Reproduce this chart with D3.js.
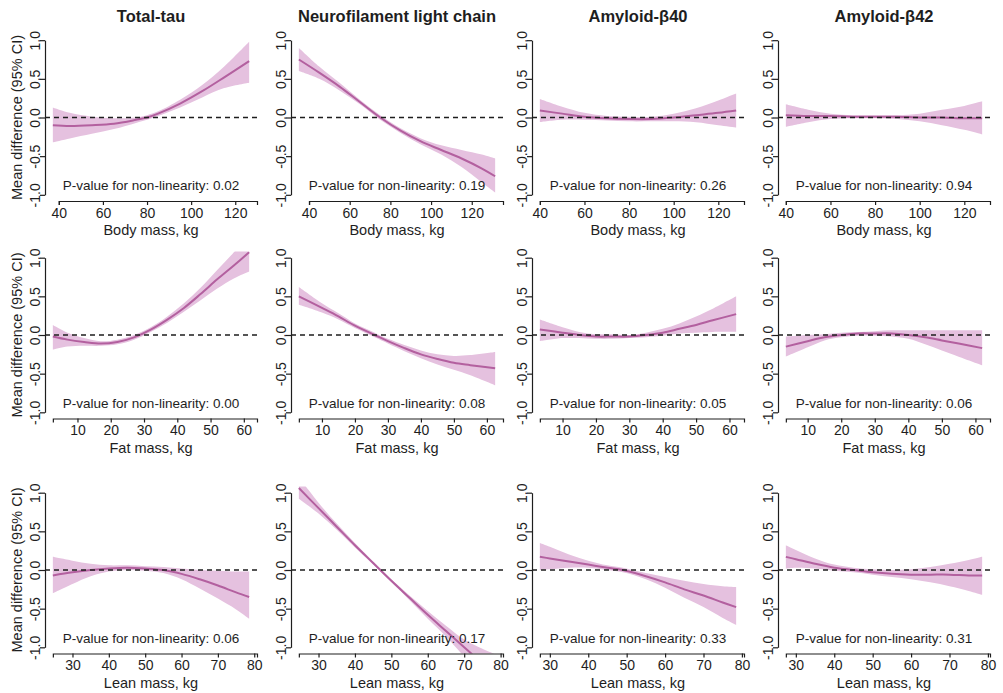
<!DOCTYPE html>
<html>
<head>
<meta charset="utf-8">
<script src="https://cdn.jsdelivr.net/npm/d3@7"></script>
<style>
  body { margin: 0; background: #fff; }
  text { font-family: "Liberation Sans", Arial, Helvetica, sans-serif; }
</style>
</head>
<body>
<svg id="chart" width="1003" height="693"></svg>
<script>
// Outcomes (columns) and exposures (rows)
const outcomes = ["Total-tau", "Neurofilament light chain", "Amyloid-β40", "Amyloid-β42"];
const exposures = ["Body mass, kg", "Fat mass, kg", "Lean mass, kg"];

// Axis ticks
const xTicksBody = [40, 60, 80, 100, 120];
const xTicksFat = [10, 20, 30, 40, 50, 60];
const xTicksLean = [30, 40, 50, 60, 70, 80];
const yTicks = [-1, -0.5, 0, 0.5, 1];

// P-values for non-linearity, per exposure row
const pBody = ["0.02", "0.19", "0.26", "0.94"];
const pFat = ["0.00", "0.08", "0.05", "0.06"];
const pLean = ["0.06", "0.17", "0.33", "0.31"];

// Spline curves: [exposure, mean difference, lower 95% CI, upper 95% CI]
const tauBody = [
  [37.3, -0.10, -0.32, 0.13], [45, -0.11, -0.27, 0.06], [55, -0.10, -0.21, 0.01],
  [65, -0.08, -0.15, -0.01], [75, -0.03, -0.07, 0.00], [80, 0.00, -0.03, 0.03],
  [85, 0.05, 0.02, 0.08], [95, 0.18, 0.13, 0.23], [105, 0.34, 0.26, 0.42],
  [115, 0.52, 0.38, 0.66], [126.3, 0.73, 0.45, 0.98]
];
const nflBody = [
  [35, 0.75, 0.60, 0.90], [45, 0.58, 0.50, 0.66], [55, 0.40, 0.35, 0.45],
  [65, 0.20, 0.17, 0.23], [75, 0.00, -0.03, 0.03], [85, -0.17, -0.20, -0.14],
  [95, -0.31, -0.35, -0.27], [105, -0.42, -0.48, -0.36], [115, -0.53, -0.64, -0.42],
  [125, -0.66, -0.84, -0.48], [131.5, -0.76, -0.97, -0.53]
];
const ab40Body = [
  [40, 0.09, -0.06, 0.24], [50, 0.05, -0.03, 0.14], [60, 0.01, -0.03, 0.06],
  [70, -0.01, -0.04, 0.02], [80, -0.02, -0.05, 0.01], [90, -0.02, -0.05, 0.01],
  [100, 0.00, -0.05, 0.05], [110, 0.03, -0.06, 0.12], [120, 0.06, -0.10, 0.22],
  [128, 0.09, -0.13, 0.31]
];
const ab42Body = [
  [40, 0.03, -0.12, 0.17], [50, 0.02, -0.06, 0.10], [60, 0.02, -0.02, 0.05],
  [70, 0.01, -0.01, 0.03], [80, 0.01, -0.01, 0.03], [90, 0.01, -0.02, 0.03],
  [100, 0.00, -0.05, 0.05], [110, 0.00, -0.10, 0.10], [120, -0.01, -0.16, 0.15],
  [128, -0.01, -0.22, 0.21]
];
const tauFat = [
  [2.6, -0.02, -0.19, 0.13], [7, -0.06, -0.15, 0.03], [12, -0.09, -0.14, -0.04],
  [17, -0.11, -0.14, -0.08], [22, -0.09, -0.12, -0.06], [27, -0.03, -0.06, 0.00],
  [32, 0.07, 0.04, 0.10], [37, 0.20, 0.16, 0.24], [42, 0.35, 0.30, 0.41],
  [47, 0.53, 0.45, 0.61], [52, 0.72, 0.60, 0.84], [57, 0.90, 0.73, 1.07],
  [61.6, 1.07, 0.82, 1.32]
];
const nflFat = [
  [3, 0.50, 0.39, 0.62], [10, 0.35, 0.29, 0.41], [15, 0.24, 0.20, 0.28],
  [20, 0.12, 0.09, 0.15], [26, 0.00, -0.03, 0.03], [30, -0.08, -0.11, -0.05],
  [35, -0.17, -0.21, -0.13], [40, -0.25, -0.30, -0.20], [45, -0.31, -0.38, -0.25],
  [50, -0.36, -0.45, -0.27], [55, -0.39, -0.52, -0.26], [62.5, -0.43, -0.65, -0.22]
];
const ab40Fat = [
  [3.2, 0.07, -0.08, 0.20], [10, 0.03, -0.04, 0.10], [15, 0.00, -0.04, 0.04],
  [20, -0.02, -0.05, 0.01], [25, -0.02, -0.05, 0.01], [30, -0.02, -0.04, 0.00],
  [35, 0.00, -0.03, 0.03], [40, 0.03, -0.01, 0.08], [45, 0.08, 0.02, 0.15],
  [50, 0.13, 0.03, 0.24], [55, 0.19, 0.04, 0.34], [62, 0.27, 0.04, 0.50]
];
const ab42Fat = [
  [3.5, -0.15, -0.28, -0.02], [10, -0.08, -0.16, 0.00], [15, -0.03, -0.07, 0.01],
  [20, 0.00, -0.03, 0.03], [25, 0.02, -0.01, 0.04], [30, 0.02, -0.01, 0.05],
  [35, 0.02, -0.02, 0.06], [40, 0.00, -0.05, 0.06], [45, -0.03, -0.12, 0.06],
  [50, -0.07, -0.20, 0.06], [55, -0.11, -0.28, 0.06], [62, -0.17, -0.39, 0.06]
];
const tauLean = [
  [24.6, -0.07, -0.30, 0.17], [30, -0.03, -0.18, 0.12], [35, 0.00, -0.08, 0.08],
  [40, 0.02, -0.02, 0.06], [45, 0.03, 0.00, 0.06], [50, 0.02, -0.01, 0.05],
  [55, 0.00, -0.04, 0.04], [60, -0.05, -0.12, 0.02], [65, -0.12, -0.24, 0.00],
  [70, -0.20, -0.37, -0.01], [75, -0.29, -0.51, -0.02], [78.6, -0.35, -0.63, -0.02]
];
const nflLean = [
  [24.6, 1.06, 0.92, 1.20], [30, 0.80, 0.73, 0.87], [35, 0.56, 0.52, 0.60],
  [40, 0.32, 0.29, 0.35], [45, 0.09, 0.07, 0.11], [50, -0.14, -0.16, -0.12],
  [55, -0.36, -0.39, -0.33], [60, -0.58, -0.63, -0.53], [65, -0.79, -0.86, -0.72],
  [70, -1.00, -1.12, -0.90], [75, -1.21, -1.36, -1.02], [78.5, -1.36, -1.54, -1.09]
];
const ab40Lean = [
  [27.4, 0.17, 0.00, 0.35], [30, 0.15, 0.01, 0.30], [35, 0.11, 0.03, 0.20],
  [40, 0.07, 0.03, 0.12], [45, 0.03, 0.00, 0.06], [49, 0.00, -0.03, 0.03],
  [55, -0.08, -0.12, -0.04], [60, -0.16, -0.23, -0.09], [65, -0.25, -0.36, -0.14],
  [70, -0.33, -0.48, -0.18], [75, -0.42, -0.62, -0.21], [78.5, -0.48, -0.71, -0.22]
];
const ab42Lean = [
  [27.4, 0.17, 0.02, 0.32], [30, 0.14, 0.03, 0.26], [35, 0.08, 0.02, 0.15],
  [40, 0.03, -0.01, 0.07], [45, 0.00, -0.03, 0.03], [50, -0.03, -0.06, 0.01],
  [55, -0.05, -0.09, 0.00], [60, -0.06, -0.12, 0.01], [65, -0.06, -0.16, 0.04],
  [70, -0.06, -0.21, 0.08], [75, -0.07, -0.27, 0.13], [78.5, -0.07, -0.32, 0.17]
];

// Assemble rows of panels
const curves = [
  [tauBody, nflBody, ab40Body, ab42Body],
  [tauFat, nflFat, ab40Fat, ab42Fat],
  [tauLean, nflLean, ab40Lean, ab42Lean]
];
const xTicks = [xTicksBody, xTicksFat, xTicksLean];
const pValues = [pBody, pFat, pLean];

// Layout
const colLeft = [45, 291, 532, 778];
const rowTop = [34, 251.5, 486.5];
const W = 212, H = 167;
const ink = "#1e1e1e";
const lineColor = "#b3609f";
const bandColor = "#e5c1df";
const tickFont = 14;
const noteFont = 13.5;
const smooth = d3.curveCatmullRom.alpha(0.5);

const svg = d3.select("#chart");
svg.append("rect").attr("width", 1003).attr("height", 693).attr("fill", "#fff");
const defs = svg.append("defs");

curves.forEach((row, r) => {
  row.forEach((data, c) => {
    const x0 = colLeft[c], top = rowTop[r];
    const ext = d3.extent(data, d => d[0]);
    const pad = 0.04 * (ext[1] - ext[0]);
    const x = d3.scaleLinear().domain([ext[0] - pad, ext[1] + pad]).range([x0, x0 + W]);
    const y = d3.scaleLinear().domain([-1.08, 1.08]).range([top + H, top]);

    const clipId = `clip-${r}-${c}`;
    defs.append("clipPath").attr("id", clipId)
      .append("rect").attr("x", x0).attr("y", top).attr("width", W).attr("height", H);

    const g = svg.append("g");
    const plot = g.append("g").attr("clip-path", `url(#${clipId})`);

    // Confidence band
    plot.append("path").datum(data)
      .attr("d", d3.area().x(d => x(d[0])).y0(d => y(d[2])).y1(d => y(d[3])).curve(smooth))
      .attr("fill", bandColor);

    // Estimated mean difference
    plot.append("path").datum(data)
      .attr("d", d3.line().x(d => x(d[0])).y(d => y(d[1])).curve(smooth))
      .attr("fill", "none").attr("stroke", lineColor).attr("stroke-width", 2);

    // Reference line at zero
    plot.append("path").datum(x.domain())
      .attr("d", d3.line().x(d => x(d)).y(() => y(0)))
      .attr("stroke", ink).attr("stroke-width", 1.3).attr("stroke-dasharray", "5,4").attr("fill", "none");

    // X axis: spans from the first tick (or the data start) to the plot edge
    const from = r === 0 ? xTicks[r][0] : ext[0];
    const xAxisScale = d3.scaleLinear().domain([from, x.domain()[1]]).range([x(from), x(x.domain()[1])]);
    const gx = g.append("g").attr("transform", `translate(0,${top + H})`)
      .call(d3.axisBottom(xAxisScale).tickValues(xTicks[r]).tickSizeInner(4).tickSizeOuter(4).tickPadding(3));
    gx.attr("font-size", tickFont).attr("font-family", null);
    gx.selectAll("path, line").attr("stroke", ink).attr("stroke-width", 1.2);
    gx.selectAll("text").attr("fill", ink);

    // Y axis with rotated labels
    const yAxisScale = d3.scaleLinear().domain([-1, 1]).range([y(-1), y(1)]);
    const gy = g.append("g").attr("transform", `translate(${x0},0)`)
      .call(d3.axisLeft(yAxisScale).tickValues(yTicks).tickFormat(d => d.toFixed(1)).tickSizeInner(5).tickSizeOuter(0));
    gy.attr("font-size", tickFont).attr("font-family", null);
    gy.selectAll("path, line").attr("stroke", ink).attr("stroke-width", 1.2);
    gy.selectAll("text").attr("fill", ink)
      .attr("transform", "rotate(-90)").attr("x", 0).attr("y", -5).attr("dy", null)
      .attr("text-anchor", "middle");

    // P-value annotation
    g.append("text").attr("x", x0 + W / 2).attr("y", y(-0.88) + 4.7)
      .attr("text-anchor", "middle").attr("font-size", noteFont).attr("fill", ink)
      .text(`P-value for non-linearity: ${pValues[r][c]}`);

    // X axis title
    g.append("text").attr("x", x0 + W / 2).attr("y", top + H + 34)
      .attr("text-anchor", "middle").attr("font-size", 14.5).attr("fill", ink)
      .text(exposures[r]);

    // Column titles
    if (r === 0) {
      g.append("text").attr("x", x0 + W / 2).attr("y", 22)
        .attr("text-anchor", "middle").attr("font-size", 16.5).attr("font-weight", "bold").attr("fill", ink)
        .text(outcomes[c]);
    }

    // Y axis title in the first column
    if (c === 0) {
      g.append("text")
        .attr("transform", `translate(${x0 - 23},${y(0)}) rotate(-90)`)
        .attr("text-anchor", "middle").attr("font-size", 14.5).attr("fill", ink)
        .text("Mean difference (95% CI)");
    }
  });
});
</script>
</body>
</html>
